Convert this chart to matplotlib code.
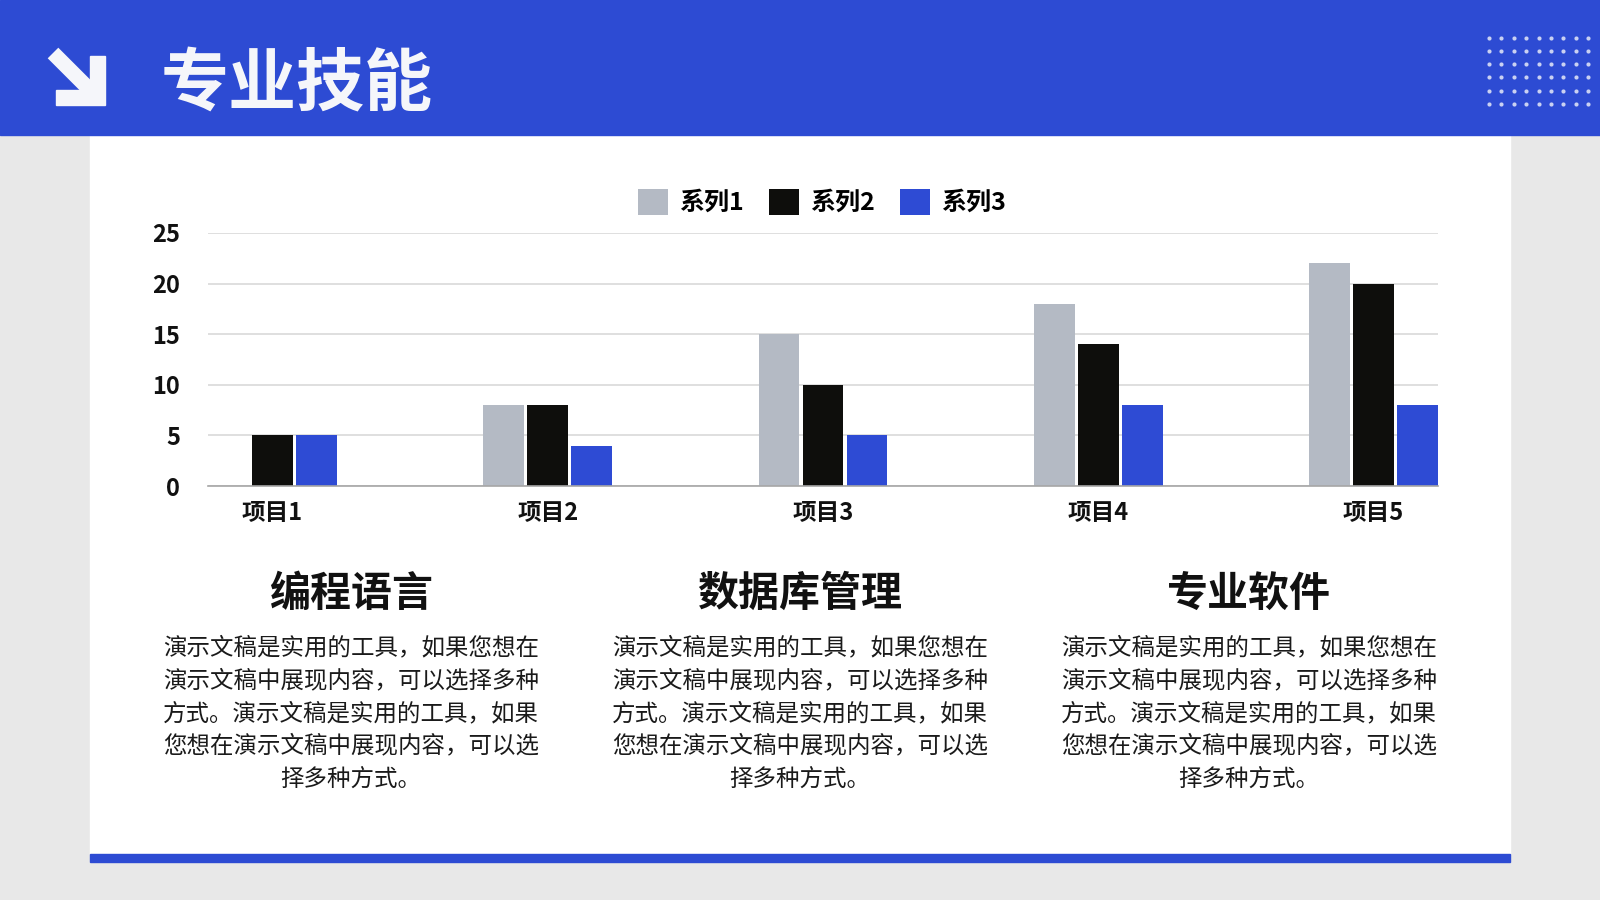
import numpy as np
import matplotlib.pyplot as plt
from matplotlib.patches import Rectangle, Polygon

plt.rcParams['font.family'] = ['Noto Sans CJK SC', 'DejaVu Sans']

# chart data
categories = ["项目1", "项目2", "项目3", "项目4", "项目5"]
series_names = ["系列1", "系列2", "系列3"]
series1 = [0, 8, 15, 18, 22]
series2 = [5, 8, 10, 14, 20]
series3 = [5, 4, 5, 8, 8]
y_ticks = [0, 5, 10, 15, 20, 25]

title = "专业技能"
headings = ["编程语言", "数据库管理", "专业软件"]
body_lines = [
    "演示文稿是实用的工具，如果您想在",
    "演示文稿中展现内容，可以选择多种",
    "方式。演示文稿是实用的工具，如果",
    "您想在演示文稿中展现内容，可以选",
    "择多种方式。",
]

BLUE = "#2d4bd3"
GRAY_BG = "#e8e8e8"
colors = ["#b4bac4", "#0e0e0c", "#2e4bd4"]


def draw_background(fig):
    bg = fig.add_axes([0, 0, 1, 1])
    bg.set_xlim(0, 1600)
    bg.set_ylim(900, 0)
    bg.axis('off')
    bg.add_patch(Rectangle((0, 0), 1600, 900, color=GRAY_BG))
    bg.add_patch(Rectangle((90, 135), 1420, 719, color="white"))
    bg.add_patch(Rectangle((90, 854), 1420, 8, color=BLUE))
    bg.add_patch(Rectangle((0, 0), 1600, 135, color=BLUE))

    # arrow icon
    bg.add_patch(Polygon([(90, 56), (105, 56), (105, 105), (56, 105), (56, 90), (90, 90)],
                         closed=True, color="#f5f6fa"))
    bg.plot([53, 96], [53, 96], color="#f5f6fa", lw=10.8, solid_capstyle='butt')

    bg.text(161, 85, title, color="#f5f6fa", fontsize=49, fontweight='heavy',
            ha='left', va='center')

    # dot pattern
    xs = np.arange(1489, 1600, 12.4)
    ys = np.arange(37.7, 105, 13.2)
    gx, gy = np.meshgrid(xs, ys)
    bg.scatter(gx.ravel(), gy.ravel(), s=9, color="#c9d1f2", linewidths=0)

    # text columns
    centers = [351, 800, 1249]
    for cx, head in zip(centers, headings):
        bg.text(cx, 594, head, fontsize=29.5, fontweight='heavy', color="#111111",
                ha='center', va='center')
        for i, line in enumerate(body_lines):
            bg.text(cx, 648 + i * 32.7, line, fontsize=16.9, color="#1a1a1a",
                    ha='center', va='center')
    return bg


def draw_chart(fig):
    ax = fig.add_axes([208 / 1600, 1 - 486 / 900, 1230 / 1600, 253 / 900])
    x = np.arange(len(categories))
    step = 0.16
    width = 0.148
    for i, (vals, name) in enumerate(zip([series1, series2, series3], series_names)):
        ax.bar(x + (i - 1) * step, vals, width, color=colors[i], label=name, zorder=3)

    ax.set_xlim(-step - width / 2, len(categories) - 1 + step + width / 2)
    ax.set_ylim(0, 25)
    ax.set_yticks(y_ticks)
    ax.set_xticks(x)
    ax.set_xticklabels(categories)
    ax.grid(axis='y', color="#d9d9d9", lw=1.2, zorder=0)
    for side in ['top', 'right', 'left']:
        ax.spines[side].set_visible(False)
    ax.spines['bottom'].set_color("#a6a6a6")
    ax.spines['bottom'].set_linewidth(1.2)
    ax.spines['bottom'].set_zorder(4)
    ax.tick_params(axis='y', length=0, pad=20, labelsize=17, labelcolor="#111111")
    ax.tick_params(axis='x', length=0, pad=11, labelsize=17, labelcolor="#111111")
    for lab in ax.get_xticklabels() + ax.get_yticklabels():
        lab.set_fontweight('heavy')
    ax.set_facecolor('none')

    ax.legend(loc='center', bbox_to_anchor=(822 / 1600, 1 - 202 / 900),
              bbox_transform=fig.transFigure, ncol=3, frameon=False,
              handlelength=1.2, handleheight=1.2, handletextpad=0.45,
              columnspacing=1.0, prop={'size': 18, 'weight': 'heavy'})
    return ax


def main():
    fig = plt.figure(figsize=(16, 9), dpi=100)
    draw_background(fig)
    draw_chart(fig)
    fig.savefig("out.png", dpi=100)


if __name__ == '__main__':
    main()
